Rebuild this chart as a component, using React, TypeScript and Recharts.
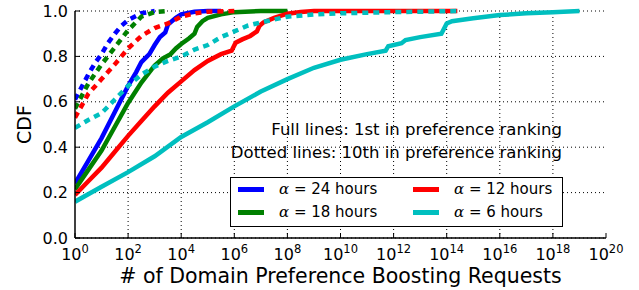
import { LineChart, Line, XAxis, YAxis, CartesianGrid, ReferenceLine } from "recharts";

// x values are stored as powers of ten
const blueSolidExp = [0, 0.5, 1, 1.5, 2, 2.3, 2.5, 2.8, 3, 3.2, 3.4, 3.5, 3.8, 4, 4.5, 5, 5.5];
const blueSolidCdf = [0.24, 0.34, 0.44, 0.555, 0.67, 0.73, 0.775, 0.81, 0.85, 0.885, 0.905, 0.94, 0.97, 0.985, 0.997, 1, 1];

const greenSolidExp = [0, 0.5, 1, 1.5, 2, 2.5, 3, 3.3, 3.6, 3.8, 4, 4.3, 4.5, 4.6, 4.8, 5, 5.5, 6, 7, 8];
const greenSolidCdf = [0.215, 0.3, 0.385, 0.49, 0.595, 0.685, 0.76, 0.79, 0.81, 0.835, 0.855, 0.88, 0.9, 0.93, 0.955, 0.97, 0.985, 0.995, 1, 1];

const redSolidExp = [0, 0.5, 1, 1.5, 2, 2.5, 3, 3.5, 4, 4.5, 5, 5.5, 5.9, 6.05, 6.3, 6.6, 6.85, 6.95, 7.1, 7.5, 8, 8.5, 9, 14.4];
const redSolidCdf = [0.19, 0.25, 0.31, 0.38, 0.45, 0.515, 0.58, 0.64, 0.69, 0.74, 0.78, 0.81, 0.825, 0.86, 0.875, 0.89, 0.91, 0.935, 0.95, 0.97, 0.988, 0.996, 1, 1];

const cyanSolidExp = [0, 1, 2, 3, 4, 5, 6, 7, 8, 9, 10, 11, 11.7, 11.8, 12.3, 12.45, 13, 13.8, 14, 14.2, 15, 16, 17, 18, 19];
const cyanSolidCdf = [0.16, 0.226, 0.29, 0.36, 0.445, 0.51, 0.58, 0.645, 0.7, 0.75, 0.785, 0.81, 0.825, 0.845, 0.858, 0.872, 0.885, 0.9, 0.945, 0.955, 0.968, 0.982, 0.99, 0.995, 1];

const blueDotExp = [0, 0.25, 0.5, 0.75, 1, 1.25, 1.5, 1.75, 2, 2.5, 3];
const blueDotCdf = [0.61, 0.665, 0.72, 0.77, 0.81, 0.86, 0.9, 0.935, 0.96, 0.99, 1];

const greenDotExp = [0, 0.5, 1, 1.5, 2, 2.5, 3, 3.5];
const greenDotCdf = [0.57, 0.68, 0.765, 0.84, 0.915, 0.975, 0.995, 1];

const redDotExp = [0, 0.5, 1, 1.5, 2, 2.5, 3, 3.5, 4, 4.5, 5, 6];
const redDotCdf = [0.53, 0.635, 0.7, 0.765, 0.835, 0.89, 0.925, 0.945, 0.975, 0.99, 0.997, 1];

const cyanDotExp = [0, 0.5, 1, 1.5, 2, 2.5, 3, 3.5, 4, 4.5, 5, 5.5, 6, 6.5, 7, 8, 9, 10, 12, 14.5];
const cyanDotCdf = [0.485, 0.52, 0.55, 0.61, 0.67, 0.72, 0.755, 0.78, 0.8, 0.83, 0.85, 0.885, 0.91, 0.935, 0.95, 0.975, 0.985, 0.99, 0.995, 1];

const xTickExps = [0, 2, 4, 6, 8, 10, 12, 14, 16, 18, 20];
const yTicks = [0, 0.2, 0.4, 0.6, 0.8, 1.0];

const legendNames = ["24 hours", "18 hours", "12 hours", "6 hours"];
const legendColors = ["#0000ff", "#008000", "#ff0000", "#00bfbf"];

const FONT = "DejaVu Sans, sans-serif";

const toPoints = (exps: number[], cdf: number[]) =>
  exps.map((e, i) => ({ x: Math.pow(10, e), y: cdf[i] }));

const series = [
  { key: "blueSolid", data: toPoints(blueSolidExp, blueSolidCdf), color: legendColors[0], dash: undefined },
  { key: "greenSolid", data: toPoints(greenSolidExp, greenSolidCdf), color: legendColors[1], dash: undefined },
  { key: "redSolid", data: toPoints(redSolidExp, redSolidCdf), color: legendColors[2], dash: undefined },
  { key: "cyanSolid", data: toPoints(cyanSolidExp, cyanSolidCdf), color: legendColors[3], dash: undefined },
  { key: "blueDot", data: toPoints(blueDotExp, blueDotCdf), color: legendColors[0], dash: "6 5" },
  { key: "greenDot", data: toPoints(greenDotExp, greenDotCdf), color: legendColors[1], dash: "6 5" },
  { key: "redDot", data: toPoints(redDotExp, redDotCdf), color: legendColors[2], dash: "6 5" },
  { key: "cyanDot", data: toPoints(cyanDotExp, cyanDotCdf), color: legendColors[3], dash: "6 5" },
];

const xTicks = xTickExps.map((e) => Math.pow(10, e));

const XTick = (props: any) => {
  const { x, y, payload } = props;
  const exp = Math.round(Math.log10(payload.value));
  return (
    <text x={x} y={y} textAnchor="middle" fontFamily={FONT} fill="#000">
      <tspan dy={20} fontSize={16}>10</tspan>
      <tspan dy={-7} fontSize={11.5}>{exp}</tspan>
    </text>
  );
};

const LegendBox = () => (
  <div
    style={{
      position: "absolute",
      left: 230,
      top: 177,
      width: 331,
      height: 48,
      border: "1px solid #000",
      background: "#fff",
      fontFamily: FONT,
      fontSize: 15,
      color: "#000",
    }}
  >
    {legendNames.map((name, i) => {
      const col = i < 2 ? 0 : 1;
      const row = i % 2;
      return (
        <div
          key={name}
          style={{
            position: "absolute",
            left: 7 + col * 175,
            top: 2 + row * 23,
            display: "flex",
            alignItems: "center",
            whiteSpace: "nowrap",
          }}
        >
          <span style={{ width: 26, height: 5, background: legendColors[i], display: "inline-block" }} />
          <span style={{ marginLeft: 15 }}>
            <span style={{ fontFamily: "DejaVu Serif, serif", fontStyle: "italic" }}>α</span> = {name}
          </span>
        </div>
      );
    })}
  </div>
);

export default function App() {
  return (
    <div style={{ position: "absolute", left: 0, top: 0, width: 639, height: 290, background: "#fff" }}>
      <LineChart width={639} height={290} margin={{ top: 11, right: 33, left: 0, bottom: 0 }}>
        <CartesianGrid stroke="#000" strokeDasharray="1 3" strokeWidth={1} vertical={false} />
        {xTicks.slice(1, -1).map((t) => (
          <ReferenceLine key={t} x={t} stroke="#000" strokeDasharray="1 3" strokeWidth={1} />
        ))}
        <XAxis
          xAxisId={0}
          dataKey="x"
          type="number"
          scale="log"
          domain={[1, 1e20]}
          ticks={xTicks}
          interval={0}
          allowDataOverflow
          height={52}
          axisLine={{ stroke: "#000", strokeWidth: 1.5 }}
          tickLine={{ stroke: "#000" }}
          tickSize={-5}
          tickMargin={7}
          tick={<XTick />}
          label={{
            content: (p: any) => (
              <text
                x={p.viewBox.x + p.viewBox.width / 2}
                y={p.viewBox.y + 45}
                textAnchor="middle"
                fontFamily={FONT}
                fontSize={20.5}
                fill="#000"
              >
                # of Domain Preference Boosting Requests
              </text>
            ),
          }}
        />
        <XAxis
          xAxisId="top"
          orientation="top"
          dataKey="x"
          type="number"
          scale="log"
          domain={[1, 1e20]}
          ticks={xTicks}
          interval={0}
          allowDataOverflow
          height={0}
          axisLine={{ stroke: "#000", strokeWidth: 1.5 }}
          tickLine={{ stroke: "#000" }}
          tickSize={-5}
          tick={false}
        />
        <YAxis
          yAxisId={0}
          type="number"
          domain={[0, 1]}
          ticks={yTicks}
          interval={0}
          width={75}
          axisLine={{ stroke: "#000", strokeWidth: 1.5 }}
          tickLine={{ stroke: "#000" }}
          tickSize={-5}
          tickMargin={12}
          tickFormatter={(v: number) => v.toFixed(1)}
          tick={{ fontSize: 16, fill: "#000", fontFamily: FONT }}
          label={{
            content: (p: any) => {
              const cx = p.viewBox.x + 24;
              const cy = p.viewBox.y + p.viewBox.height / 2;
              return (
                <text
                  x={cx}
                  y={cy}
                  transform={`rotate(-90 ${cx} ${cy})`}
                  textAnchor="middle"
                  dominantBaseline="central"
                  fontFamily={FONT}
                  fontSize={19}
                  fill="#000"
                >
                  CDF
                </text>
              );
            },
          }}
        />
        <YAxis
          yAxisId="right"
          orientation="right"
          type="number"
          domain={[0, 1]}
          ticks={yTicks}
          interval={0}
          width={0}
          axisLine={{ stroke: "#000", strokeWidth: 1.5 }}
          tickLine={{ stroke: "#000" }}
          tickSize={-5}
          tick={false}
        />
        {series.map((s) => (
          <Line
            key={s.key}
            data={s.data}
            dataKey="y"
            type="linear"
            stroke={s.color}
            strokeWidth={4.5}
            strokeDasharray={s.dash}
            dot={false}
            activeDot={false}
            isAnimationActive={false}
          />
        ))}
      </LineChart>
      <div
        style={{
          position: "absolute",
          right: 639 - 562,
          top: 118,
          fontFamily: FONT,
          fontSize: 16.5,
          textAlign: "right",
          lineHeight: "23px",
          whiteSpace: "nowrap",
          color: "#000",
        }}
      >
        <div>Full lines: 1st in preference ranking</div>
        <div>Dotted lines: 10th in preference ranking</div>
      </div>
      <LegendBox />
    </div>
  );
}
